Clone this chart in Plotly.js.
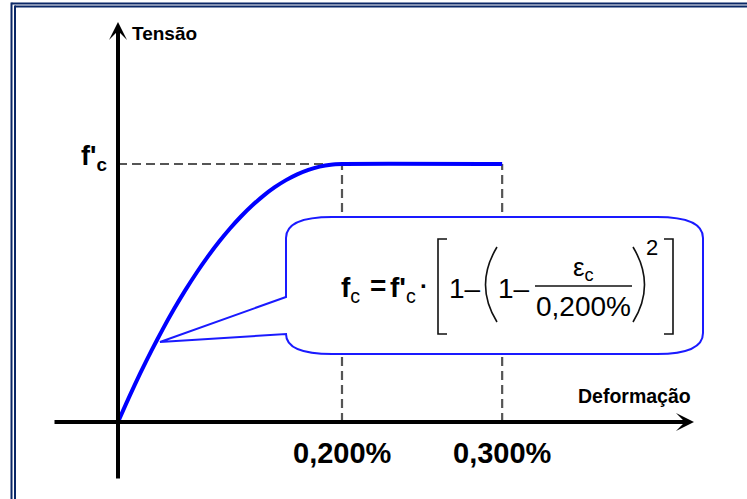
<!DOCTYPE html>
<html><head><meta charset="utf-8">
<script src="https://cdn.plot.ly/plotly-3.0.1.min.js"></script>
<style>html,body{margin:0;padding:0;background:#fff;overflow:hidden}</style>
</head><body><div id="chart" style="width:747px;height:499px"></div>
<script>
// Stress-strain curve (schematic), strain in %, stress as fraction of f'c
const strain = [0, 0.01, 0.02, 0.03, 0.04, 0.05, 0.06, 0.07, 0.08, 0.09, 0.10,
                0.11, 0.12, 0.13, 0.14, 0.15, 0.16, 0.17, 0.18, 0.19, 0.20, 0.343];
const stress = [0, 0.0975, 0.19, 0.2775, 0.36, 0.4375, 0.51, 0.5775, 0.64, 0.6975, 0.75,
                0.7975, 0.84, 0.8775, 0.91, 0.9375, 0.96, 0.9775, 0.99, 0.9975, 1, 1];
const xTickVals = [0.2, 0.343];
const xTickText = ['0,200%', '0,300%'];
const yTickVals = [1];
const yTickText = ["f'<sub>c</sub>"];
const xAxisTitle = 'Deformação';
const yAxisTitle = 'Tensão';

const W = 747, H = 499;
const xr = [-0.105357, 0.561607], yr = [-0.29845, 1.635659];
const PX = p => xr[0] + p / W * (xr[1] - xr[0]);
const PY = p => yr[1] - p / H * (yr[1] - yr[0]);
const path = pts => pts.map((s, i) => s).join(' ');
const FONT = 'Arial, "Liberation Sans", sans-serif';
const blue = '#0000ff', navy = '#0a2766', dashCol = '#555555';

const traces = [];
// dashed guides
traces.push({x: [0, xTickVals[0]], y: [yTickVals[0], yTickVals[0]], mode: 'lines',
  line: {color: dashCol, width: 2.2, dash: '9px,5px'}, hoverinfo: 'skip'});
xTickVals.forEach(v => traces.push({x: [v, v], y: [0, yTickVals[0]], mode: 'lines',
  line: {color: dashCol, width: 2.2, dash: '9px,5px'}, hoverinfo: 'skip'}));
// curve
traces.push({x: strain, y: stress, mode: 'lines',
  line: {color: blue, width: 4, shape: 'spline', smoothing: 0.6}, hoverinfo: 'skip'});

const shapes = [];
// double border (paper coords)
const pxp = p => p / W, pyp = p => 1 - p / H;
[[11.5, 3.5], [15, 6.5]].forEach(([lx, ty]) => {
  shapes.push({type: 'line', xref: 'paper', yref: 'paper', x0: pxp(lx), x1: 1.01, y0: pyp(ty), y1: pyp(ty), line: {color: navy, width: 2}});
  shapes.push({type: 'line', xref: 'paper', yref: 'paper', x0: pxp(lx), x1: pxp(lx), y0: pyp(ty - 1), y1: -0.01, line: {color: navy, width: 2}});
});
// callout
const M = (x, y) => PX(x) + ',' + PY(y);
const callout = 'M' + M(160, 342) + ' L' + M(286, 297) + ' L' + M(286, 238) +
  ' Q' + M(286, 217) + ' ' + M(332, 217) + ' L' + M(657, 217) +
  ' Q' + M(703, 217) + ' ' + M(703, 238) + ' L' + M(703, 333) +
  ' Q' + M(703, 354) + ' ' + M(657, 354) + ' L' + M(332, 354) +
  ' Q' + M(286, 354) + ' ' + M(286, 334) + ' L' + M(160, 342) + ' Z';
shapes.push({type: 'path', xref: 'x', yref: 'y', path: callout, fillcolor: '#ffffff', line: {color: '#1a1aff', width: 2}, layer: 'above'});
// brackets, parentheses, fraction bar
const blk = {color: '#111111', width: 1.6};
shapes.push({type: 'path', path: 'M' + M(447, 239) + ' L' + M(438, 239) + ' L' + M(438, 334) + ' L' + M(447, 334), line: blk, layer: 'above'});
shapes.push({type: 'path', path: 'M' + M(664, 239) + ' L' + M(673, 239) + ' L' + M(673, 334) + ' L' + M(664, 334), line: blk, layer: 'above'});
shapes.push({type: 'path', path: 'M' + M(497, 247) + ' Q' + M(474, 285) + ' ' + M(497, 322), line: blk, layer: 'above'});
shapes.push({type: 'path', path: 'M' + M(633, 247) + ' Q' + M(656, 285) + ' ' + M(633, 322), line: blk, layer: 'above'});
shapes.push({type: 'path', path: 'M' + M(535, 286) + ' L' + M(632, 286), line: {color: '#111111', width: 1.4}, layer: 'above'});

const ann = [];
// axes arrows
const arrow = (x, y, ax, ay) => ({x: x, y: y, ax: ax, ay: ay, xref: 'x', yref: 'y', axref: 'x', ayref: 'y',
  text: '', showarrow: true, arrowhead: 3, arrowsize: 0.75, arrowwidth: 4, arrowcolor: '#000000', standoff: 0, startstandoff: 0});
ann.push(arrow(PX(694), 0, PX(53), 0));
ann.push(arrow(0, PY(22), 0, PY(480)));
const txt = (t, x, y, size, xa, extra) => Object.assign({text: t, x: x, y: y, xref: 'x', yref: 'y', showarrow: false,
  xanchor: xa || 'center', yanchor: 'middle', font: {family: FONT, size: size, color: '#000000'}}, extra || {});
ann.push(txt('<b>' + yAxisTitle + '</b>', PX(130), PY(33), 19, 'left'));
ann.push(txt('<b>' + xAxisTitle + '</b>', PX(576), PY(396), 19.5, 'left'));
xTickVals.forEach((v, i) => ann.push(txt('<b>' + xTickText[i] + '</b>', v, PY(453), 29)));
yTickVals.forEach((v, i) => ann.push(txt('<b>' + yTickText[i] + '</b>', PX(109), v + (164 - 158) / 258, 27, 'right')));
// formula
ann.push(txt('<b>f</b><sub>c</sub>', PX(350), PY(289), 28));
ann.push(txt('<b>=</b>', PX(378), PY(285), 28));
ann.push(txt("<b>f'</b><sub>c</sub>", PX(403), PY(289), 28));
ann.push(txt('<b>·</b>', PX(424), PY(285), 24));
ann.push(txt('1–', PX(465), PY(288), 28));
ann.push(txt('1–', PX(514), PY(288), 28));
ann.push(txt('ε<sub>c</sub>', PX(583), PY(268), 26));
ann.push(txt('0,200%', PX(583), PY(306), 28));
ann.push(txt('2', PX(652), PY(247), 22));

Plotly.newPlot('chart', traces, {
  width: W, height: H, autosize: false, showlegend: false,
  margin: {l: 0, r: 0, t: 0, b: 0, pad: 0},
  paper_bgcolor: '#ffffff', plot_bgcolor: '#ffffff',
  xaxis: {range: xr, visible: false, fixedrange: true},
  yaxis: {range: yr, visible: false, fixedrange: true},
  shapes: shapes, annotations: ann
}, {staticPlot: true, displayModeBar: false});
</script></body></html>
